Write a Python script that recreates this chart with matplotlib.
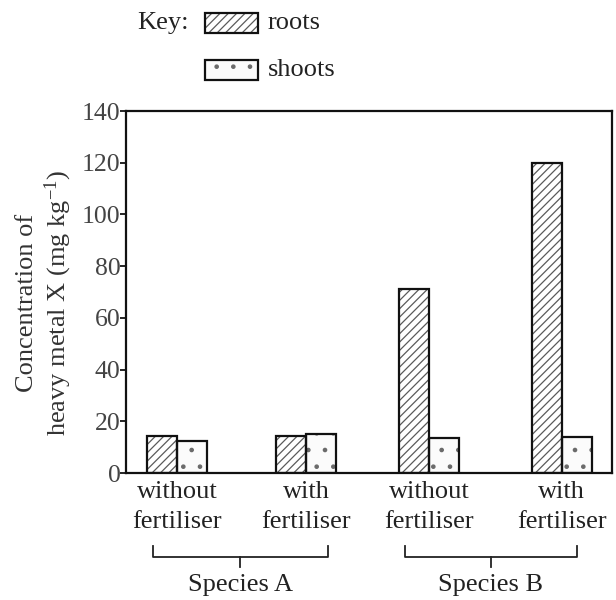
import matplotlib
matplotlib.use("Agg")
import matplotlib.pyplot as plt
from matplotlib.patches import Rectangle
from matplotlib.lines import Line2D
import numpy as np

# ---- data ----
treatments = ["without\nfertiliser", "with\nfertiliser", "without\nfertiliser", "with\nfertiliser"]
species = ["Species A", "Species B"]
roots = [14.5, 14.5, 71, 120]
shoots = [12.5, 15, 13.5, 14]
yticks = [0, 20, 40, 60, 80, 100, 120, 140]

# ---- layout (positions/styles) ----
centers = np.array([1.7, 6.0, 10.1, 14.53])
bw = 1.0
species_spans = [(0.9, 6.73), (9.3, 15.03)]

plt.rcParams['font.family'] = ['Liberation Serif', 'DejaVu Serif']
plt.rcParams['mathtext.default'] = 'regular'
plt.rcParams['hatch.linewidth'] = 0.9

W, H = 616, 600
fig = plt.figure(figsize=(W/100, H/100), dpi=100)
ax = fig.add_axes([126/W, 1-473/H, (612-126)/W, (473-111)/H])

hatch_col = '#5a5a5a'
dot_col = '#6a6a6a'
# roots
ax.bar(centers - bw/2, roots, width=bw, color='white', edgecolor=hatch_col, hatch='////', linewidth=0, zorder=2)
ax.bar(centers - bw/2, roots, width=bw, fill=False, edgecolor='#111111', linewidth=1.6, zorder=3)
# shoots
ax.bar(centers + bw/2, shoots, width=bw, color='#fbfbfb', edgecolor=dot_col, hatch='.', linewidth=0, zorder=2)
ax.bar(centers + bw/2, shoots, width=bw, fill=False, edgecolor='#111111', linewidth=1.6, zorder=3)

ax.set_xlim(0, (612-126)/30)
ax.set_ylim(0, 140)
ax.set_yticks(yticks)
ax.set_yticklabels([str(t) for t in yticks], fontsize=18.5, color='#444444')
ax.tick_params(axis='y', direction='out', length=4, width=1.2, pad=0)
ax.set_xticks(centers)
ax.set_xticklabels(treatments, fontsize=19, color='#222222', linespacing=1.45)
ax.tick_params(axis='x', length=0, pad=6)
for s in ax.spines.values():
    s.set_linewidth(1.6)
    s.set_color('#111111')

ax.set_ylabel("Concentration of\nheavy metal X (mg kg$^{-1}$)", fontsize=19,
              color='#333333', linespacing=1.2, labelpad=10)
ax.yaxis.set_label_coords(-0.108, 0.47)

# species brackets
trans = ax.get_xaxis_transform()
def ay(py):
    return (473 - py) / (473 - 111)
for (x0, x1), name in zip(species_spans, species):
    xm = (x0 + x1) / 2
    ax.add_line(Line2D([x0, x0, x1, x1], [ay(546), ay(557), ay(557), ay(546)],
                       transform=trans, color='#222222', lw=1.3, clip_on=False))
    ax.add_line(Line2D([xm, xm], [ay(557), ay(567)], transform=trans,
                       color='#222222', lw=1.3, clip_on=False))
    ax.text(xm, ay(585), name, transform=trans, ha='center', va='center',
            fontsize=19, color='#222222')

# key
def fx(px):
    return px / W
def fy(py):
    return 1 - py / H
fig.text(fx(137), fy(23), "Key:", ha='left', va='center', fontsize=19, color='#222222')
fig.add_artist(Rectangle((fx(205), fy(33)), fx(258)-fx(205), fy(13)-fy(33), transform=fig.transFigure,
                         facecolor='white', edgecolor=hatch_col, hatch='////', linewidth=0))
fig.add_artist(Rectangle((fx(205), fy(33)), fx(258)-fx(205), fy(13)-fy(33), transform=fig.transFigure,
                         fill=False, edgecolor='#111111', linewidth=1.6))
fig.text(fx(268), fy(23), "roots", ha='left', va='center', fontsize=19, color='#222222')
fig.add_artist(Rectangle((fx(205), fy(80)), fx(258)-fx(205), fy(60)-fy(80), transform=fig.transFigure,
                         facecolor='#fbfbfb', edgecolor=dot_col, hatch='.', linewidth=0))
fig.add_artist(Rectangle((fx(205), fy(80)), fx(258)-fx(205), fy(60)-fy(80), transform=fig.transFigure,
                         fill=False, edgecolor='#111111', linewidth=1.6))
fig.text(fx(268), fy(70), "shoots", ha='left', va='center', fontsize=19, color='#222222')

fig.savefig("out.png", dpi=100, facecolor='white')
